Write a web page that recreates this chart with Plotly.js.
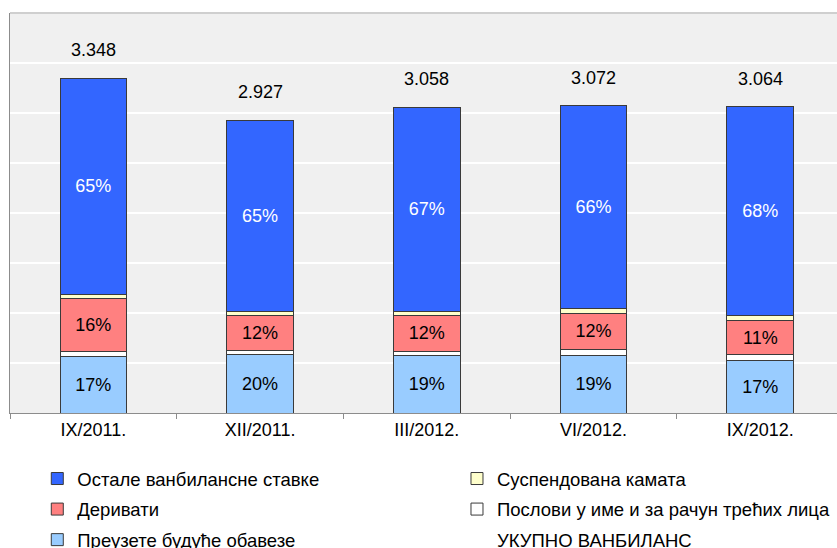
<!DOCTYPE html>
<html>
<head>
<meta charset="utf-8">
<script src="https://cdn.plot.ly/plotly-3.0.1.min.js"></script>
<style>
  html, body { margin: 0; padding: 0; background: #ffffff; }
  #chart { width: 837px; height: 548px; }
</style>
</head>
<body>
<div id="chart"></div>
<script>
// Categories (periods)
var categories = ["IX/2011.", "XII/2011.", "III/2012.", "VI/2012.", "IX/2012."];

// Series values (stacked from bottom to top)
var preuzete   = [570, 590, 575, 577, 525];      // Преузете будуће обавезе
var poslovi    = [45, 40, 40, 57, 57];           // Послови у име и за рачун трећих лица
var derivati   = [530, 350, 365, 365, 345];      // Деривати
var suspend    = [40, 40, 40, 50, 50];           // Суспендована камата
var ostale     = [2163, 1907, 2038, 2023, 2087]; // Остале ванбилансне ставке

// Series names
var names = {
  ostale: "Остале ванбилансне ставке",
  suspend: "Суспендована камата",
  derivati: "Деривати",
  poslovi: "Послови у име и за рачун трећих лица",
  preuzete: "Преузете будуће обавезе",
  total: "УКУПНО ВАНБИЛАНС"
};

var totals = categories.map(function (c, i) {
  return preuzete[i] + poslovi[i] + derivati[i] + suspend[i] + ostale[i];
});

function pctText(arr) {
  return arr.map(function (v, i) { return Math.round(v / totals[i] * 100) + "%"; });
}
function fmtTotal(t) {
  return Math.floor(t / 1000) + "." + String(t % 1000).padStart(3, "0");
}

var FONT = "Liberation Sans, Arial, Helvetica, sans-serif";
var edge = { color: "#3a3a3a", width: 1 };

function barTrace(y, name, color, rank, legendId, labels, labelColor) {
  return {
    type: "bar",
    x: categories,
    y: y,
    name: name,
    legend: legendId,
    legendgroup: name,
    legendrank: rank,
    marker: { color: color, line: edge },
    text: labels,
    textposition: labels ? "inside" : "none",
    insidetextanchor: "middle",
    insidetextfont: { family: FONT, size: 18, color: labelColor || "#000000" },
    constraintext: "none",
    hoverinfo: "x+y+name"
  };
}

var traces = [
  barTrace(preuzete, names.preuzete, "#99CCFF", 3, "legend", pctText(preuzete), "#000000"),
  barTrace(poslovi, names.poslovi, "#FFFFFF", 2, "legend2", null),
  barTrace(derivati, names.derivati, "#FF8080", 2, "legend", pctText(derivati), "#000000"),
  barTrace(suspend, names.suspend, "#FFFFCC", 1, "legend2", null),
  barTrace(ostale, names.ostale, "#3366FF", 1, "legend", pctText(ostale), "#FFFFFF"),
  {
    type: "scatter",
    mode: "lines",
    x: categories,
    y: totals,
    name: names.total,
    legend: "legend2",
    legendgroup: names.total,
    legendrank: 3,
    line: { width: 0, color: "rgba(0,0,0,0)" },
    hoverinfo: "skip"
  }
];

var annotations = categories.map(function (c, i) {
  return {
    x: c, y: totals[i], xref: "x", yref: "y",
    text: fmtTotal(totals[i]),
    showarrow: false,
    yshift: 28,
    font: { family: FONT, size: 18, color: "#000000" }
  };
});

function legendBox(x) {
  return {
    orientation: "v",
    x: x, xanchor: "left",
    y: -0.1175, yanchor: "top",
    font: { family: FONT, size: 18.5, color: "#000000" },
    bgcolor: "rgba(0,0,0,0)",
    traceorder: "grouped",
    tracegroupgap: 3.5
  };
}

var layout = {
  width: 837,
  height: 548,
  margin: { l: 10, r: 0, t: 13, b: 135, autoexpand: false },
  paper_bgcolor: "#FFFFFF",
  plot_bgcolor: "#F0F0F0",
  font: { family: FONT, size: 18, color: "#000000" },
  barmode: "stack",
  bargap: 0.6,
  showlegend: true,
  legend: legendBox(0.033),
  legend2: legendBox(0.5405),
  xaxis: {
    type: "category",
    range: [-0.5, 4.46],
    showline: true, linecolor: "#8C8C8C", linewidth: 1,
    ticks: "outside", tickson: "boundaries", ticklen: 5, tickcolor: "#8C8C8C",
    tickfont: { family: FONT, size: 18, color: "#000000" },
    showgrid: false, zeroline: false, fixedrange: true
  },
  yaxis: {
    range: [0, 4000],
    dtick: 500,
    showticklabels: false,
    ticks: "",
    showgrid: true, gridcolor: "#FFFFFF", gridwidth: 2,
    showline: true, linecolor: "#8C8C8C", linewidth: 1,
    zeroline: false, fixedrange: true
  },
  shapes: [{
    type: "line", xref: "paper", yref: "paper",
    x0: 0, x1: 1, y0: 1, y1: 1,
    line: { color: "#CFCFCF", width: 2 }
  }],
  annotations: annotations
};

Plotly.newPlot("chart", traces, layout, { displayModeBar: false, staticPlot: true });
</script>
</body>
</html>
